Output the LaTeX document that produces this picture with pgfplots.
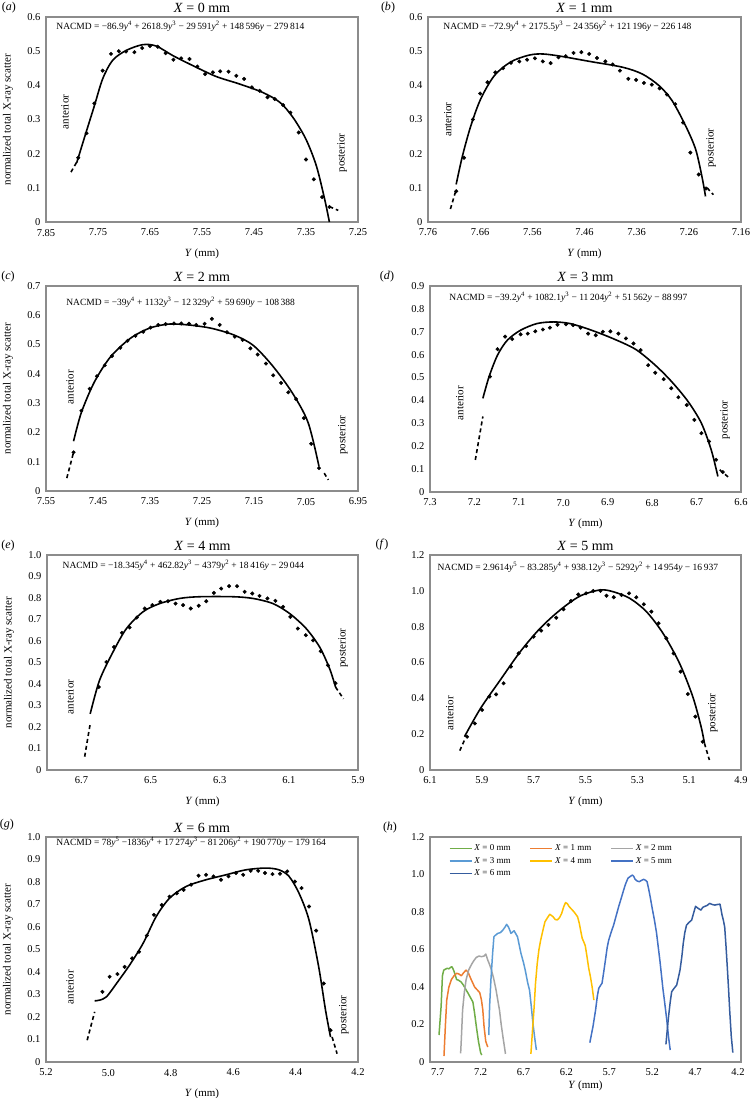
\documentclass[border=0pt]{standalone}
\usepackage{pgfplots}
\pgfplotsset{compat=1.18}
\usepackage{fontspec}
\setmainfont{Liberation Serif}

\definecolor{framegray}{HTML}{8C8C8C}
\definecolor{cA}{HTML}{70AD47}
\definecolor{cB}{HTML}{ED7D31}
\definecolor{cC}{HTML}{A5A5A5}
\definecolor{cD}{HTML}{5B9BD5}
\definecolor{cE}{HTML}{FFC000}
\definecolor{cF}{HTML}{4472C4}
\definecolor{cG}{HTML}{355C9E}

\newcommand{\fs}[1]{\fontsize{#1}{#1}\selectfont}
\newcommand{\yy}[1]{\textit{y}\textsuperscript{#1}}

\pgfplotsset{
  panel/.style={
    scale only axis, x dir=reverse, clip=false,
    axis line style={draw=framegray, line width=1.3pt},
    major tick length=0pt,
    tick label style={font=\fs{10.5}},
    xticklabel style={yshift=-3.5pt},
    yticklabel style={xshift=-2pt},
    title style={font=\fs{14}, at={(axis description cs:0.5,1)}, anchor=south, inner sep=0pt, yshift=-2pt},
    xlabel={\textit{Y} (mm)},
    xlabel style={font=\fs{11}, at={(axis description cs:0.5,0)}, anchor=center, yshift=-32pt},
  },
  leftlab/.style={
    ylabel={normalized total X-ray scatter},
    ylabel style={font=\fs{11}, at={(axis description cs:-0.122,0.5)}, anchor=center},
  },
  dots/.style={only marks, mark=*, mark size=1.8pt, black},
  fit/.style={black, line width=1.6pt, smooth, tension=0.5, no marks},
  ext/.style={black, line width=1.6pt, dash pattern=on 4pt off 3pt, no marks},
  hline/.style={line width=1.5pt, no marks, line join=round},
}

\begin{document}
\begin{tikzpicture}
\path[use as bounding box] (0,0) rectangle (750pt,-1098pt);

% (a) X = 0 mm
\begin{axis}[panel, leftlab, at={(46pt,-17pt)}, anchor=north west, width=312pt, height=205pt,
  xmin=7.25, xmax=7.85, ymin=0, ymax=0.6,
  xtick={7.85,7.75,7.65,7.55,7.45,7.35,7.25}, xticklabels={7.85,7.75,7.65,7.55,7.45,7.35,7.25},
  ytick={0,0.1,0.2,0.3,0.4,0.5,0.6}, yticklabels={0,0.1,0.2,0.3,0.4,0.5,0.6},
  title={\textit{X} = 0 mm}]
\addplot[dots] coordinates {(7.788,0.188)(7.772,0.26)(7.757,0.347)(7.741,0.443)(7.725,0.492)(7.71,0.50)(7.696,0.499)(7.68,0.497)(7.665,0.509)(7.65,0.515)(7.635,0.513)(7.62,0.494)(7.605,0.475)(7.59,0.479)(7.574,0.477)(7.559,0.455)(7.544,0.433)(7.529,0.438)(7.515,0.441)(7.499,0.44)(7.484,0.428)(7.469,0.419)(7.454,0.394)(7.439,0.384)(7.424,0.365)(7.41,0.36)(7.394,0.342)(7.38,0.32)(7.364,0.262)(7.35,0.183)(7.335,0.125)(7.319,0.073)(7.305,0.044)};
\addplot[fit] coordinates {(7.791,0.173)(7.773,0.262)(7.757,0.34)(7.741,0.419)(7.722,0.473)(7.696,0.502)(7.664,0.519)(7.638,0.515)(7.606,0.487)(7.568,0.458)(7.523,0.426)(7.478,0.404)(7.433,0.379)(7.40,0.35)(7.375,0.306)(7.35,0.242)(7.33,0.164)(7.314,0.066)(7.305,0)};
\addplot[ext] coordinates {(7.802,0.146)(7.791,0.175)};
\addplot[ext] coordinates {(7.305,0.045)(7.288,0.034)};
\node[anchor=west, font=\fs{9.5}] at (axis description cs:0.022,0.956) {NACMD = −86.9\yy{4} + 2618.9\yy{3} − 29\,591\yy{2} + 148\,596\textit{y} − 279\,814};
\node[rotate=90, font=\fs{11}] at (axis description cs:0.061,0.537) {anterior};
\node[rotate=90, font=\fs{11}] at (axis description cs:0.949,0.337) {posterior};
\node[font=\fs{12}, xshift=-37pt, yshift=9pt] at (axis description cs:0,1) {(\textit{a})};
\end{axis}

% (b) X = 1 mm
\begin{axis}[panel, at={(428pt,-17pt)}, anchor=north west, width=313pt, height=205pt,
  xmin=7.16, xmax=7.76, ymin=0, ymax=0.6,
  xtick={7.76,7.66,7.56,7.46,7.36,7.26,7.16}, xticklabels={7.76,7.66,7.56,7.46,7.36,7.26,7.16},
  ytick={0,0.1,0.2,0.3,0.4,0.5,0.6}, yticklabels={0,0.1,0.2,0.3,0.4,0.5,0.6},
  title={\textit{X} = 1 mm}]
\addplot[dots] coordinates {(7.706,0.09)(7.691,0.188)(7.674,0.30)(7.66,0.376)(7.646,0.409)(7.631,0.438)(7.616,0.45)(7.601,0.466)(7.585,0.47)(7.57,0.475)(7.555,0.479)(7.54,0.47)(7.525,0.465)(7.51,0.482)(7.496,0.485)(7.481,0.495)(7.466,0.497)(7.451,0.492)(7.436,0.48)(7.42,0.47)(7.406,0.461)(7.392,0.443)(7.376,0.419)(7.361,0.416)(7.346,0.407)(7.331,0.402)(7.316,0.391)(7.302,0.373)(7.286,0.345)(7.271,0.291)(7.257,0.203)(7.241,0.139)(7.227,0.098)};
\addplot[fit] coordinates {(7.706,0.11)(7.694,0.193)(7.678,0.281)(7.659,0.36)(7.633,0.428)(7.602,0.468)(7.57,0.487)(7.545,0.492)(7.513,0.487)(7.45,0.47)(7.387,0.453)(7.349,0.433)(7.317,0.399)(7.292,0.355)(7.266,0.281)(7.247,0.213)(7.235,0.134)(7.228,0.075)};
\addplot[ext] coordinates {(7.717,0.038)(7.706,0.095)};
\addplot[ext] coordinates {(7.225,0.1)(7.213,0.08)};
\node[anchor=west, font=\fs{9.5}] at (axis description cs:0.038,0.956) {NACMD = −72.9\yy{4} + 2175.5\yy{3} − 24\,356\yy{2} + 121\,196\textit{y} − 226\,148};
\node[rotate=90, font=\fs{11}] at (axis description cs:0.063,0.50) {anterior};
\node[rotate=90, font=\fs{11}] at (axis description cs:0.905,0.36) {posterior};
\node[font=\fs{12}, xshift=-40pt, yshift=9pt] at (axis description cs:0,1) {(\textit{b})};
\end{axis}

% (c) X = 2 mm
\begin{axis}[panel, leftlab, at={(46pt,-286pt)}, anchor=north west, width=312pt, height=205pt,
  xmin=6.95, xmax=7.55, ymin=0, ymax=0.7,
  xtick={7.55,7.45,7.35,7.25,7.15,7.05,6.95}, xticklabels={7.55,7.45,7.35,7.25,7.15,7.05,6.95},
  ytick={0,0.1,0.2,0.3,0.4,0.5,0.6,0.7}, yticklabels={0,0.1,0.2,0.3,0.4,0.5,0.6,0.7},
  title={\textit{X} = 2 mm}]
\addplot[dots] coordinates {(7.497,0.132)(7.482,0.274)(7.466,0.349)(7.452,0.392)(7.437,0.429)(7.423,0.461)(7.407,0.489)(7.393,0.513)(7.378,0.53)(7.363,0.544)(7.349,0.558)(7.334,0.567)(7.32,0.57)(7.304,0.572)(7.29,0.572)(7.275,0.571)(7.261,0.567)(7.245,0.571)(7.231,0.588)(7.216,0.567)(7.202,0.542)(7.187,0.527)(7.172,0.516)(7.157,0.487)(7.143,0.466)(7.127,0.435)(7.113,0.395)(7.098,0.369)(7.084,0.337)(7.069,0.314)(7.054,0.249)(7.04,0.161)(7.025,0.078)};
\addplot[fit] coordinates {(7.497,0.17)(7.482,0.268)(7.457,0.372)(7.426,0.458)(7.388,0.521)(7.351,0.556)(7.314,0.57)(7.276,0.567)(7.233,0.556)(7.189,0.533)(7.152,0.498)(7.115,0.429)(7.077,0.337)(7.046,0.234)(7.025,0.084)};
\addplot[ext] coordinates {(7.51,0.044)(7.497,0.132)};
\addplot[ext] coordinates {(7.015,0.061)(7.007,0.038)};
\node[anchor=west, font=\fs{9.5}] at (axis description cs:0.054,0.922) {NACMD = −39\yy{4} + 1132\yy{3} − 12\,329\yy{2} + 59\,690\textit{y} − 108\,388};
\node[rotate=90, font=\fs{11}] at (axis description cs:0.077,0.507) {anterior};
\node[rotate=90, font=\fs{11}] at (axis description cs:0.952,0.273) {posterior};
\node[font=\fs{12}, xshift=-38pt, yshift=9pt] at (axis description cs:0,1) {(\textit{c})};
\end{axis}

% (d) X = 3 mm
\begin{axis}[panel, at={(430pt,-286pt)}, anchor=north west, width=311pt, height=206pt,
  xmin=6.6, xmax=7.3, ymin=0, ymax=0.9,
  xtick={7.3,7.2,7.1,7.0,6.9,6.8,6.7,6.6}, xticklabels={7.3,7.2,7.1,7.0,6.9,6.8,6.7,6.6},
  ytick={0,0.1,0.2,0.3,0.4,0.5,0.6,0.7,0.8,0.9}, yticklabels={0,0.1,0.2,0.3,0.4,0.5,0.6,0.7,0.8,0.9},
  title={\textit{X} = 3 mm}]
\addplot[dots] coordinates {(7.165,0.504)(7.148,0.624)(7.131,0.679)(7.115,0.668)(7.096,0.689)(7.08,0.692)(7.063,0.702)(7.046,0.71)(7.03,0.718)(7.013,0.731)(6.994,0.733)(6.978,0.729)(6.961,0.718)(6.944,0.692)(6.927,0.685)(6.911,0.70)(6.894,0.702)(6.876,0.692)(6.859,0.671)(6.842,0.649)(6.826,0.62)(6.809,0.554)(6.793,0.521)(6.774,0.493)(6.757,0.453)(6.741,0.414)(6.722,0.38)(6.705,0.315)(6.689,0.257)(6.672,0.221)(6.656,0.141)(6.641,0.087)};
\addplot[fit] coordinates {(7.181,0.409)(7.167,0.504)(7.148,0.598)(7.126,0.663)(7.096,0.707)(7.059,0.736)(7.022,0.743)(6.985,0.736)(6.941,0.71)(6.889,0.671)(6.837,0.623)(6.793,0.554)(6.756,0.482)(6.719,0.395)(6.689,0.30)(6.667,0.184)(6.652,0.068)};
\addplot[ext] coordinates {(7.198,0.14)(7.181,0.33)};
\addplot[ext] coordinates {(6.648,0.097)(6.626,0.061)};
\node[anchor=west, font=\fs{9.5}] at (axis description cs:0.051,0.947) {NACMD = −39.2\yy{4} + 1082.1\yy{3} − 11\,204\yy{2} + 51\,562\textit{y} − 88\,997};
\node[rotate=90, font=\fs{11}] at (axis description cs:0.096,0.432) {anterior};
\node[rotate=90, font=\fs{11}] at (axis description cs:0.949,0.35) {posterior};
\node[font=\fs{12}, xshift=-43pt, yshift=9pt] at (axis description cs:0,1) {(\textit{d})};
\end{axis}

% (e) X = 4 mm
\begin{axis}[panel, leftlab, at={(47pt,-555pt)}, anchor=north west, width=311pt, height=215pt,
  xmin=5.9, xmax=6.8, ymin=0, ymax=1.0,
  xtick={6.7,6.5,6.3,6.1,5.9}, xticklabels={6.7,6.5,6.3,6.1,5.9},
  ytick={0,0.1,0.2,0.3,0.4,0.5,0.6,0.7,0.8,0.9,1.0}, yticklabels={0,0.1,0.2,0.3,0.4,0.5,0.6,0.7,0.8,0.9,1.0},
  title={\textit{X} = 4 mm}]
\addplot[dots] coordinates {(6.65,0.386)(6.628,0.502)(6.606,0.572)(6.583,0.638)(6.561,0.663)(6.54,0.709)(6.517,0.751)(6.495,0.767)(6.472,0.782)(6.45,0.785)(6.428,0.774)(6.406,0.767)(6.384,0.751)(6.361,0.764)(6.339,0.785)(6.317,0.824)(6.296,0.844)(6.273,0.855)(6.25,0.855)(6.228,0.829)(6.206,0.821)(6.185,0.81)(6.162,0.798)(6.139,0.787)(6.117,0.759)(6.096,0.712)(6.074,0.658)(6.051,0.627)(6.03,0.603)(6.008,0.552)(5.987,0.487)(5.965,0.404)};
\addplot[fit] coordinates {(6.675,0.261)(6.648,0.417)(6.609,0.549)(6.57,0.658)(6.522,0.736)(6.474,0.774)(6.416,0.798)(6.358,0.806)(6.262,0.806)(6.204,0.798)(6.146,0.774)(6.098,0.728)(6.05,0.658)(6.011,0.572)(5.982,0.471)(5.965,0.386)};
\addplot[ext] coordinates {(6.691,0.062)(6.675,0.215)};
\addplot[ext] coordinates {(5.965,0.386)(5.942,0.331)};
\node[anchor=west, font=\fs{9.5}] at (axis description cs:0.039,0.953) {NACMD = −18.345\yy{4} + 462.82\yy{3} − 4379\yy{2} + 18\,416\textit{y} − 29\,044};
\node[rotate=90, font=\fs{11}] at (axis description cs:0.074,0.34) {anterior};
\node[rotate=90, font=\fs{11}] at (axis description cs:0.952,0.567) {posterior};
\node[font=\fs{12}, xshift=-39pt, yshift=9pt] at (axis description cs:0,1) {(\textit{e})};
\end{axis}

% (f) X = 5 mm
\begin{axis}[panel, at={(430pt,-555pt)}, anchor=north west, width=311pt, height=215pt,
  xmin=4.9, xmax=6.1, ymin=0, ymax=1.2,
  xtick={6.1,5.9,5.7,5.5,5.3,5.1,4.9}, xticklabels={6.1,5.9,5.7,5.5,5.3,5.1,4.9},
  ytick={0,0.2,0.4,0.6,0.8,1.0,1.2}, yticklabels={0,0.2,0.4,0.6,0.8,1.0,1.2},
  title={\textit{X} = 5 mm}]
\addplot[dots] coordinates {(5.957,0.186)(5.927,0.26)(5.899,0.335)(5.871,0.41)(5.845,0.422)(5.816,0.484)(5.788,0.577)(5.758,0.651)(5.729,0.692)(5.70,0.744)(5.671,0.778)(5.643,0.81)(5.613,0.85)(5.585,0.897)(5.556,0.943)(5.528,0.98)(5.498,0.986)(5.47,0.999)(5.442,1.0)(5.419,0.973)(5.391,0.964)(5.361,0.977)(5.332,0.986)(5.304,0.964)(5.275,0.925)(5.246,0.884)(5.218,0.819)(5.188,0.735)(5.16,0.651)(5.133,0.549)(5.105,0.424)(5.076,0.298)(5.048,0.158)};
\addplot[fit] coordinates {(5.967,0.186)(5.905,0.344)(5.829,0.502)(5.752,0.66)(5.675,0.791)(5.598,0.893)(5.521,0.971)(5.444,1.005)(5.393,0.995)(5.329,0.958)(5.265,0.884)(5.201,0.763)(5.137,0.595)(5.086,0.409)(5.054,0.242)(5.041,0.149)};
\addplot[ext] coordinates {(5.985,0.108)(5.967,0.167)};
\addplot[ext] coordinates {(5.041,0.149)(5.022,0.056)};
\node[anchor=west, font=\fs{9.5}] at (axis description cs:0.013,0.944) {NACMD = 2.9614\yy{5} − 83.285\yy{4} + 938.12\yy{3} − 5292\yy{2} + 14\,954\textit{y} − 16\,937};
\node[rotate=90, font=\fs{11}] at (axis description cs:0.064,0.265) {anterior};
\node[rotate=90, font=\fs{11}] at (axis description cs:0.91,0.265) {posterior};
\node[font=\fs{12}, xshift=-48pt, yshift=10pt] at (axis description cs:0,1) {(\textit{f})};
\end{axis}

% (g) X = 6 mm
\begin{axis}[panel, leftlab, at={(46pt,-837pt)}, anchor=north west, width=312pt, height=225pt,
  xmin=4.2, xmax=5.2, ymin=0, ymax=1.0,
  xtick={5.2,5.0,4.8,4.6,4.4,4.2}, xticklabels={5.2,5.0,4.8,4.6,4.4,4.2},
  ytick={0,0.1,0.2,0.3,0.4,0.5,0.6,0.7,0.8,0.9,1.0}, yticklabels={0,0.1,0.2,0.3,0.4,0.5,0.6,0.7,0.8,0.9,1.0},
  title={\textit{X} = 6 mm}]
\addplot[dots] coordinates {(5.019,0.312)(4.996,0.379)(4.971,0.391)(4.948,0.423)(4.924,0.461)(4.902,0.49)(4.877,0.562)(4.854,0.654)(4.829,0.698)(4.804,0.735)(4.781,0.75)(4.759,0.765)(4.735,0.788)(4.711,0.828)(4.687,0.832)(4.663,0.825)(4.639,0.81)(4.615,0.825)(4.591,0.84)(4.568,0.832)(4.544,0.85)(4.52,0.85)(4.498,0.84)(4.474,0.835)(4.45,0.837)(4.427,0.847)(4.402,0.802)(4.381,0.773)(4.357,0.691)(4.334,0.584)(4.31,0.349)(4.288,0.141)};
\addplot[fit] coordinates {(5.044,0.272)(5.028,0.275)(5.006,0.29)(4.974,0.349)(4.932,0.431)(4.889,0.527)(4.847,0.646)(4.804,0.728)(4.751,0.78)(4.687,0.81)(4.623,0.832)(4.56,0.854)(4.496,0.862)(4.453,0.854)(4.421,0.825)(4.389,0.75)(4.357,0.631)(4.326,0.423)(4.304,0.23)(4.288,0.111)};
\addplot[ext] coordinates {(5.068,0.097)(5.044,0.223)};
\addplot[ext] coordinates {(4.283,0.111)(4.267,0.037)};
\node[anchor=west, font=\fs{9.5}] at (axis description cs:0.022,0.975) {NACMD = 78\yy{5} −1836\yy{4} + 17\,274\yy{3} − 81\,206\yy{2} + 190\,770\textit{y} − 179\,164};
\node[rotate=90, font=\fs{11}] at (axis description cs:0.077,0.333) {anterior};
\node[rotate=90, font=\fs{11}] at (axis description cs:0.955,0.209) {posterior};
\node[font=\fs{12}, xshift=-39pt, yshift=12pt] at (axis description cs:0,1) {(\textit{g})};
\end{axis}

% (h) all profiles
\begin{axis}[panel, at={(430pt,-837pt)}, anchor=north west, width=311pt, height=225pt,
  xmin=4.165, xmax=7.79, ymin=0, ymax=1.2,
  xtick={7.7,7.2,6.7,6.2,5.7,5.2,4.7,4.2}, xticklabels={7.7,7.2,6.7,6.2,5.7,5.2,4.7,4.2},
  ytick={0,0.2,0.4,0.6,0.8,1.0,1.2}, yticklabels={0,0.2,0.4,0.6,0.8,1.0,1.2},
  xlabel style={yshift=8pt},
  legend columns=3, legend cell align=left,
  legend image code/.code={\draw[#1, line width=1.6pt] (0pt,0pt) -- (22pt,0pt);},
  legend style={at={(axis description cs:0.06,0.975)}, anchor=north west, draw=none, fill=none,
    font=\fs{9}, inner sep=0pt, row sep=1pt,
    /tikz/every even column/.append style={column sep=17pt}}]
\addplot[hline, cA] coordinates {(7.685,0.144)(7.66,0.30)(7.645,0.46)(7.63,0.49)(7.61,0.495)(7.59,0.50)(7.57,0.497)(7.55,0.505)(7.534,0.508)(7.515,0.49)(7.5,0.47)(7.48,0.44)(7.46,0.437)(7.43,0.428)(7.40,0.41)(7.37,0.385)(7.35,0.37)(7.32,0.345)(7.29,0.32)(7.27,0.26)(7.25,0.19)(7.225,0.11)(7.2,0.05)(7.187,0.037)};
\addlegendentry{\textit{X} = 0 mm}
\addplot[hline, cB] coordinates {(7.627,0.032)(7.61,0.2)(7.595,0.33)(7.57,0.40)(7.54,0.44)(7.51,0.46)(7.48,0.473)(7.455,0.47)(7.425,0.46)(7.40,0.475)(7.37,0.49)(7.345,0.478)(7.32,0.45)(7.29,0.42)(7.27,0.40)(7.24,0.385)(7.21,0.37)(7.19,0.33)(7.175,0.28)(7.16,0.19)(7.14,0.11)(7.117,0.08)};
\addlegendentry{\textit{X} = 1 mm}
\addplot[hline, cC] coordinates {(7.433,0.046)(7.425,0.12)(7.41,0.277)(7.39,0.37)(7.37,0.437)(7.34,0.49)(7.31,0.517)(7.28,0.54)(7.25,0.558)(7.22,0.565)(7.19,0.562)(7.16,0.565)(7.14,0.576)(7.117,0.544)(7.10,0.525)(7.08,0.50)(7.05,0.45)(7.02,0.384)(7.0,0.33)(6.98,0.277)(6.96,0.20)(6.94,0.135)(6.91,0.043)};
\addlegendentry{\textit{X} = 2 mm}
\addplot[hline, cD] coordinates {(7.105,0.144)(7.095,0.30)(7.08,0.437)(7.06,0.58)(7.045,0.668)(7.03,0.675)(7.0,0.686)(6.97,0.69)(6.94,0.704)(6.915,0.72)(6.897,0.734)(6.875,0.72)(6.846,0.686)(6.81,0.70)(6.77,0.668)(6.73,0.58)(6.70,0.53)(6.68,0.49)(6.65,0.42)(6.63,0.384)(6.61,0.30)(6.59,0.206)(6.57,0.13)(6.55,0.064)};
\addlegendentry{\textit{X} = 3 mm}
\addplot[hline, cE] coordinates {(6.614,0.043)(6.595,0.17)(6.576,0.295)(6.56,0.42)(6.54,0.526)(6.52,0.60)(6.50,0.65)(6.47,0.71)(6.45,0.748)(6.42,0.77)(6.394,0.788)(6.37,0.78)(6.356,0.775)(6.33,0.76)(6.306,0.758)(6.28,0.77)(6.255,0.793)(6.23,0.83)(6.21,0.85)(6.19,0.845)(6.17,0.83)(6.14,0.815)(6.11,0.80)(6.07,0.775)(6.05,0.74)(6.035,0.704)(6.016,0.66)(5.997,0.64)(5.98,0.62)(5.96,0.562)(5.94,0.50)(5.92,0.455)(5.90,0.40)(5.88,0.33)};
\addlegendentry{\textit{X} = 4 mm}
\addplot[hline, cF] coordinates {(5.927,0.103)(5.89,0.19)(5.86,0.277)(5.84,0.35)(5.823,0.393)(5.80,0.41)(5.785,0.42)(5.765,0.48)(5.745,0.544)(5.725,0.61)(5.707,0.65)(5.68,0.69)(5.65,0.73)(5.62,0.78)(5.59,0.83)(5.56,0.875)(5.533,0.917)(5.51,0.95)(5.483,0.98)(5.455,0.99)(5.43,0.997)(5.415,0.99)(5.40,0.975)(5.375,0.965)(5.35,0.962)(5.32,0.97)(5.30,0.974)(5.28,0.97)(5.26,0.962)(5.24,0.92)(5.224,0.882)(5.20,0.82)(5.174,0.757)(5.15,0.69)(5.13,0.615)(5.11,0.54)(5.09,0.455)(5.075,0.39)(5.058,0.33)(5.03,0.224)(5.01,0.135)(4.99,0.064)};
\addlegendentry{\textit{X} = 5 mm}
\addplot[hline, cG] coordinates {(5.04,0.094)(5.025,0.17)(5.01,0.24)(4.99,0.32)(4.973,0.375)(4.95,0.39)(4.915,0.41)(4.895,0.45)(4.876,0.49)(4.855,0.56)(4.838,0.633)(4.82,0.69)(4.80,0.73)(4.77,0.745)(4.74,0.757)(4.72,0.79)(4.695,0.83)(4.665,0.82)(4.633,0.81)(4.61,0.825)(4.587,0.83)(4.56,0.835)(4.53,0.846)(4.50,0.84)(4.47,0.837)(4.44,0.84)(4.41,0.842)(4.40,0.82)(4.386,0.784)(4.37,0.755)(4.355,0.72)(4.34,0.62)(4.325,0.508)(4.31,0.39)(4.297,0.277)(4.278,0.135)(4.26,0.05)};
\addlegendentry{\textit{X} = 6 mm}
\node[font=\fs{12}, xshift=-40pt, yshift=9pt] at (axis description cs:0,1) {(\textit{h})};
\end{axis}
\end{tikzpicture}
\end{document}
